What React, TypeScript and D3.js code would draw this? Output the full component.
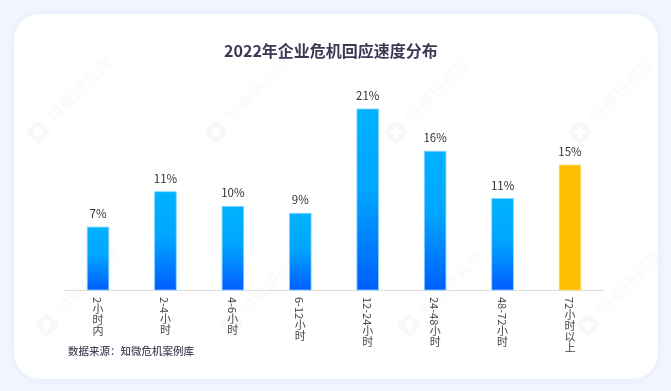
import React from 'react';
import * as d3 from 'd3';

const categories = ['2小时内', '2-4小时', '4-6小时', '6-12小时', '12-24小时', '24-48小时', '48-72小时', '72小时以上'];
const values = [7.3, 11.4, 9.7, 8.9, 21, 16.1, 10.6, 14.5];
const valueLabels = ['7%', '11%', '10%', '9%', '21%', '16%', '11%', '15%'];
const highlight = ['72小时以上'];

const title = '2022年企业危机回应速度分布';
const source = '数据来源：知微危机案例库';
const watermark = '知微研究院';

const W = 671;
const H = 391;
const font = '"Noto Sans CJK SC", "Noto Sans", sans-serif';

const App: React.FC = () => {
    const x = d3.scaleBand<string>()
        .domain(categories)
        .range([64.3, 603.7])
        .paddingInner(0.68)
        .paddingOuter(0.34);

    const y = d3.scaleLinear()
        .domain([0, 21])
        .range([290, 109]);

    // watermark anchor points (logo positions)
    const marks = [
        [38, 132], [216, 132], [396, 132], [580, 132],
        [47, 325], [231, 325], [409, 325], [588, 325],
    ];

    return (
        <svg width={W} height={H} style={{ position: 'absolute', left: 0, top: 0, display: 'block' }}>
            <defs>
                <linearGradient id="barBlue" x1="0" y1="0" x2="0" y2="1">
                    <stop offset="0%" stopColor="#00b2ff" />
                    <stop offset="45%" stopColor="#00a6ff" />
                    <stop offset="100%" stopColor="#005eff" />
                </linearGradient>
                <filter id="cardShadow" x="-10%" y="-10%" width="120%" height="120%">
                    <feDropShadow dx="0" dy="0" stdDeviation="6" floodColor="#c9d6f5" floodOpacity="0.45" />
                </filter>
            </defs>
            <rect x={0} y={0} width={W} height={H} fill="#f3f6fe" />
            <rect x={14} y={14} width={644} height={365} rx={26} ry={26} fill="#ffffff" filter="url(#cardShadow)" />

            {/* watermark */}
            <g opacity={0.06} fill="#888">
                {marks.map(([mx, my], i) => (
                    <g key={i} transform={`translate(${mx},${my}) rotate(-45)`}>
                        <path d="M-9,-9 L5,-9 L9,-5 L9,9 L-9,9 Z M-4,-4 L-4,4 L4,4 L4,-4 Z" fillRule="evenodd" />
                        <text x={18} y={5} fontSize={15} fontFamily={font} letterSpacing={2}>{watermark}</text>
                    </g>
                ))}
            </g>

            <text x={331} y={57} textAnchor="middle" fontSize={16} fontWeight={700} fill="#3b3a55" fontFamily={font}>
                {title}
            </text>

            <line x1={64} x2={604} y1={290.5} y2={290.5} stroke="#dcdcdc" strokeWidth={1} />

            {categories.map((c, i) => {
                const bx = x(c) ?? 0;
                const isHi = highlight.includes(c);
                return (
                    <g key={c}>
                        <rect
                            x={bx}
                            y={y(values[i])}
                            width={x.bandwidth()}
                            height={y(0) - y(values[i])}
                            fill={isHi ? '#ffbf00' : 'url(#barBlue)'}
                            stroke={isHi ? '#ffd966' : '#7fd3ff'}
                            strokeWidth={0.8}
                        />
                        <text
                            x={bx + x.bandwidth() / 2}
                            y={y(values[i]) - 9}
                            textAnchor="middle"
                            fontSize={11.5}
                            fill="#333"
                            fontFamily={font}
                        >
                            {valueLabels[i]}
                        </text>
                        <text
                            x={bx + x.bandwidth() / 2}
                            y={297}
                            fontSize={11}
                            fill="#444"
                            fontFamily={font}
                            style={{ writingMode: 'vertical-rl' }}
                        >
                            {c}
                        </text>
                    </g>
                );
            })}

            <text x={68} y={355} fontSize={10.5} fontWeight={500} fill="#4a4a5e" fontFamily={font}>
                {source}
            </text>
        </svg>
    );
};

export default App;
